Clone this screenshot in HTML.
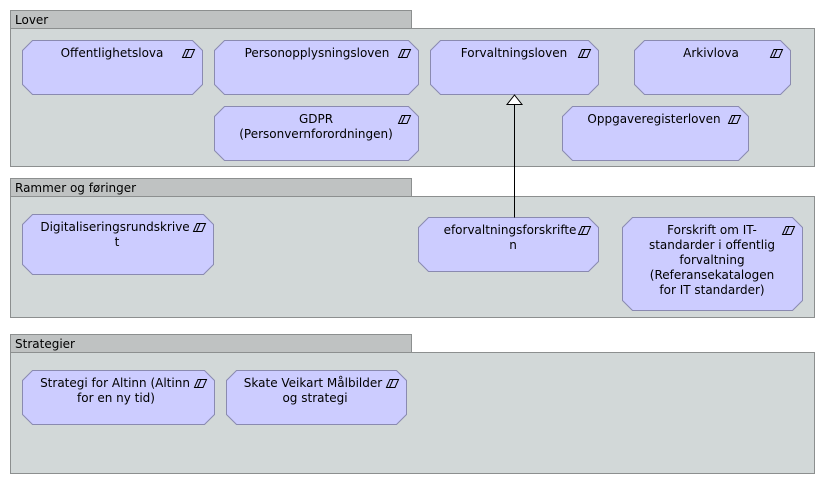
<!DOCTYPE html>
<html><head><meta charset="utf-8"><style>
html,body{margin:0;padding:0;background:#fff;}
svg{display:block;}
text{font-family:"DejaVu Sans","Liberation Sans",sans-serif;font-size:12px;fill:#000;}
</style></head><body>
<svg width="825" height="484" viewBox="0 0 825 484" xmlns="http://www.w3.org/2000/svg">
<defs>
<g id="ic"><polygon points="3.5,0 12,0 8.5,8 0,8" fill="none" stroke="#000" stroke-width="1"/><line x1="6.5" y1="0" x2="3" y2="8" stroke="#000" stroke-width="1"/></g>
</defs>
<rect x="10.5" y="10.5" width="401" height="18" fill="#bfc2c2" stroke="#8c8f8f"/>
<rect x="10.5" y="28.5" width="804" height="138" fill="#d2d8d8" stroke="#8c8f8f"/>
<text x="15" y="24">Lover</text>
<rect x="10.5" y="178.5" width="401" height="18" fill="#bfc2c2" stroke="#8c8f8f"/>
<rect x="10.5" y="196.5" width="804" height="121" fill="#d2d8d8" stroke="#8c8f8f"/>
<text x="15" y="192">Rammer og føringer</text>
<rect x="10.5" y="334.5" width="401" height="18" fill="#bfc2c2" stroke="#8c8f8f"/>
<rect x="10.5" y="352.5" width="804" height="121" fill="#d2d8d8" stroke="#8c8f8f"/>
<text x="15" y="348">Strategier</text>

<g fill="#ccccff" stroke="#8a8ab0" stroke-width="1">
<polygon points="32.5,40.5 192.5,40.5 202.5,50.5 202.5,84.5 192.5,94.5 32.5,94.5 22.5,84.5 22.5,50.5"/>
<polygon points="224.5,40.5 408.5,40.5 418.5,50.5 418.5,84.5 408.5,94.5 224.5,94.5 214.5,84.5 214.5,50.5"/>
<polygon points="440.5,40.5 588.5,40.5 598.5,50.5 598.5,84.5 588.5,94.5 440.5,94.5 430.5,84.5 430.5,50.5"/>
<polygon points="644.5,40.5 780.5,40.5 790.5,50.5 790.5,84.5 780.5,94.5 644.5,94.5 634.5,84.5 634.5,50.5"/>
<polygon points="224.5,106.5 408.5,106.5 418.5,116.5 418.5,150.5 408.5,160.5 224.5,160.5 214.5,150.5 214.5,116.5"/>
<polygon points="572.5,106.5 738.5,106.5 748.5,116.5 748.5,150.5 738.5,160.5 572.5,160.5 562.5,150.5 562.5,116.5"/>
<polygon points="32.5,214.5 203.5,214.5 213.5,224.5 213.5,264.5 203.5,274.5 32.5,274.5 22.5,264.5 22.5,224.5"/>
<polygon points="428.5,217.5 588.5,217.5 598.5,227.5 598.5,261.5 588.5,271.5 428.5,271.5 418.5,261.5 418.5,227.5"/>
<polygon points="632.5,217.5 792.5,217.5 802.5,227.5 802.5,300.5 792.5,310.5 632.5,310.5 622.5,300.5 622.5,227.5"/>
<polygon points="32.5,370.5 204.5,370.5 214.5,380.5 214.5,414.5 204.5,424.5 32.5,424.5 22.5,414.5 22.5,380.5"/>
<polygon points="236.5,370.5 396.5,370.5 406.5,380.5 406.5,414.5 396.5,424.5 236.5,424.5 226.5,414.5 226.5,380.5"/>
</g>
<use href="#ic" x="182.5" y="49.5"/>
<use href="#ic" x="398.5" y="49.5"/>
<use href="#ic" x="578.5" y="49.5"/>
<use href="#ic" x="770.5" y="49.5"/>
<use href="#ic" x="398.5" y="115.5"/>
<use href="#ic" x="728.5" y="115.5"/>
<use href="#ic" x="193.5" y="223.5"/>
<use href="#ic" x="578.5" y="226.5"/>
<use href="#ic" x="782.5" y="226.5"/>
<use href="#ic" x="194.5" y="379.5"/>
<use href="#ic" x="386.5" y="379.5"/>
<g text-anchor="middle">
<text x="112" y="57">Offentlighetslova</text>
<text x="317" y="57">Personopplysningsloven</text>
<text x="514" y="57">Forvaltningsloven</text>
<text x="711" y="57">Arkivlova</text>
<text x="316" y="123">GDPR</text>
<text x="316" y="138">(Personvernforordningen)</text>
<text x="654" y="123">Oppgaveregisterloven</text>
<text x="115" y="231">Digitaliseringsrundskrive</text>
<text x="117" y="246">t</text>
<text x="510" y="234">eforvaltningsforskrifte</text>
<text x="513" y="249">n</text>
<text x="712" y="234">Forskrift om IT-</text>
<text x="712" y="249">standarder i offentlig</text>
<text x="712" y="264">forvaltning</text>
<text x="712" y="279">(Referansekatalogen</text>
<text x="712" y="294">for IT standarder)</text>
<text x="115" y="387">Strategi for Altinn (Altinn</text>
<text x="116" y="402">for en ny tid)</text>
<text x="313" y="387">Skate Veikart Målbilder</text>
<text x="315" y="402">og strategi</text>
</g>
<line x1="514.5" y1="104.5" x2="514.5" y2="217.5" stroke="#000" stroke-width="1"/>
<polygon points="514.5,95 522,104.5 507,104.5" fill="#fff" stroke="#000" stroke-width="1"/>
</svg>
</body></html>
